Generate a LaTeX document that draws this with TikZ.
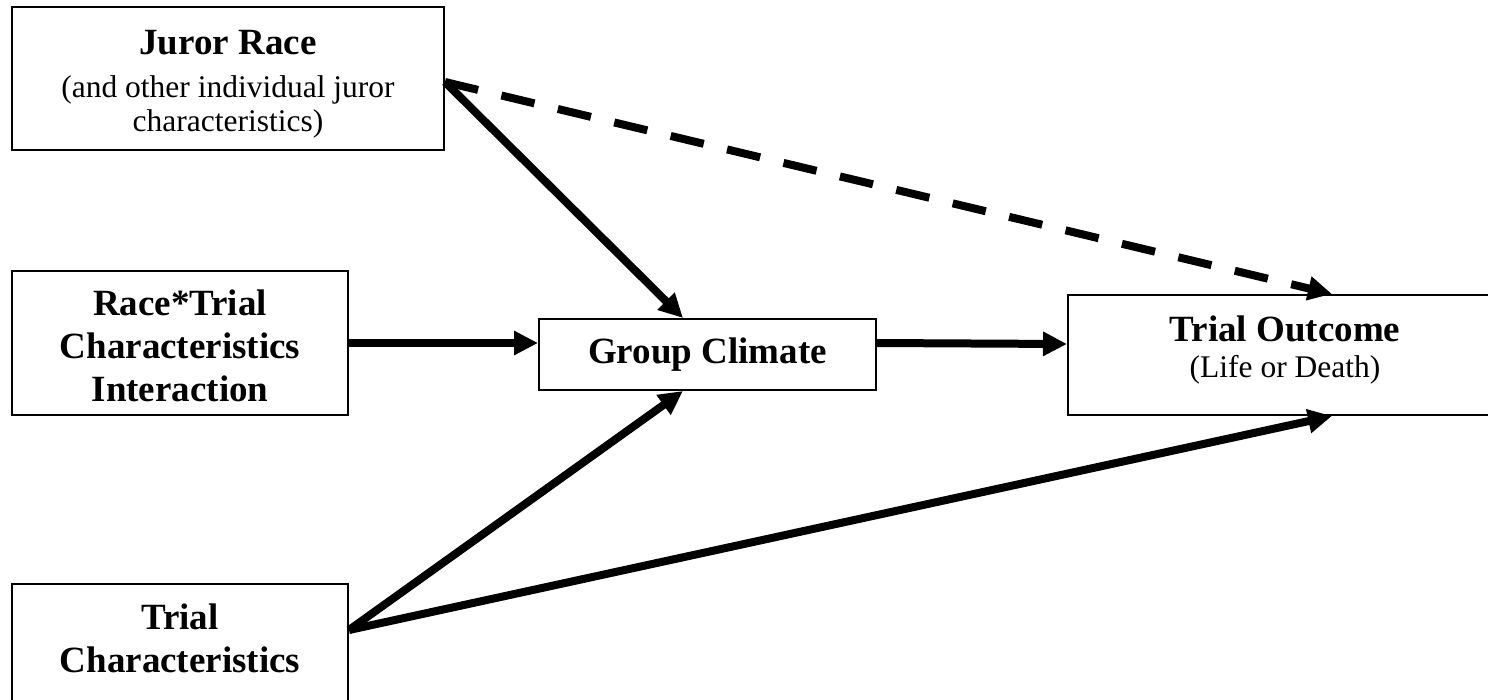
\documentclass[tikz,border=0pt]{standalone}
\usepackage{fontspec}
\setmainfont{Liberation Serif}
\usetikzlibrary{arrows.meta}
\begin{document}
\begin{tikzpicture}[x=1pt,y=-1pt,
  box/.style={draw, line width=2pt, inner sep=0pt, fill=none},
  txt/.style={align=center, inner sep=0pt, font=\fontsize{31.5}{34}\selectfont},
  ttl/.style={align=center, inner sep=0pt, font=\bfseries\fontsize{37}{43}\selectfont},
  arr/.style={line width=8pt, -{Triangle[length=24pt,width=23pt]}},
  darr/.style={arr, dash pattern=on 34pt off 24pt}]
\useasboundingbox (0,0) rectangle (1488,699);
\clip (0,0) rectangle (1488,699);
% boxes
\node[box, minimum width=432pt, minimum height=143pt] (jr) at (228,78.5) {};
\node[box, minimum width=336pt, minimum height=144pt] (rt) at (180,343) {};
\node[box, minimum width=336pt, minimum height=150pt, anchor=north] (tc) at (180,583) {};
\node[box, minimum width=337pt, minimum height=71pt] (gc) at (707.5,354.5) {};
\node[box, minimum width=436pt, minimum height=120pt, anchor=north west] (to) at (1067,294) {};
% texts
\node[txt] (jrT) at (228,84) {{\bfseries\fontsize{37}{43}\selectfont Juror Race}\\[9pt](and other individual juror\\characteristics)};
\node[ttl] (rtT) at (180,346) {Race*Trial\\Characteristics\\Interaction};
\node[ttl] (tcT) at (180,638) {Trial\\Characteristics};
\node[ttl] (gcT) at (707.5,355) {Group Climate};
\node[txt] (toT) at (1285,350.5) {{\bfseries\fontsize{37}{43}\selectfont Trial Outcome}\\[2pt](Life or Death)};
% connectors
\coordinate (jrOut) at ([yshift=-3.5pt]jr.east);
\coordinate (tcOut) at ([yshift=-47pt]tc.north east);
\draw[arr] (jrOut) -- ([xshift=-24.5pt]gc.north);
\draw[darr] (jrOut) -- ([xshift=-173pt]to.north east);
\draw[arr] (rt.east) -- ([yshift=11.5pt]gc.west);
\draw[arr] ([yshift=11.5pt]gc.east) -- ([yshift=11pt]to.west);
\draw[arr] (tcOut) -- ([xshift=-24.5pt]gc.south);
\draw[arr] (tcOut) -- ([xshift=-173pt]to.south east);
\end{tikzpicture}
\end{document}
